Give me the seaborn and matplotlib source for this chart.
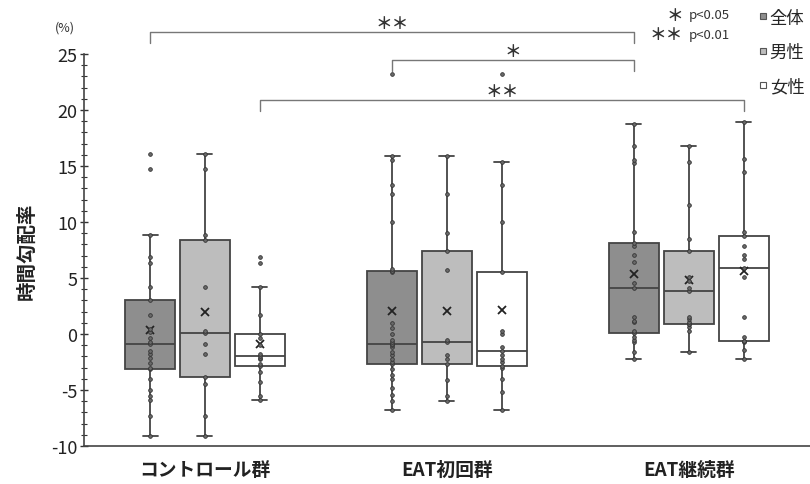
import pandas as pd
import matplotlib
matplotlib.use('Agg')
import matplotlib.pyplot as plt
import seaborn as sns
from matplotlib.lines import Line2D
from matplotlib.ticker import MultipleLocator

GROUPS = ['コントロール群', 'EAT初回群', 'EAT継続群']
SEXES = ['全体', '男性', '女性']
BOX_COLORS = ['#8e8e8e', '#bdbdbd', '#ffffff']

# 時間勾配率 (%)
ctrl_all = [-9.1, -7.3, -5.9, -5.5, -5.0, -4.0, -3.1, -3.0, -2.6, -2.1, -1.8, -1.5, -0.9,
            -0.75, -0.4, 0.15, 0.45, 1.7, 3.0, 4.2, 6.3, 6.9, 8.8, 14.7, 16.1]
ctrl_male = [-9.1, -7.3, -4.5, -3.8, -1.8, -0.9, 0.1, 0.3, 4.2, 8.4, 8.8, 14.7, 16.1]
ctrl_female = [-5.9, -5.5, -4.3, -3.4, -2.85, -2.7, -2.2, -2.1, -2.0, -1.8, -1.0, -0.4,
               0.0, 1.7, 4.2, 6.3, 6.9]

eat1_all = [-6.8, -5.95, -5.45, -4.85, -4.0, -3.7, -3.1, -2.65, -2.5, -2.2, -1.9, -1.6,
            -1.2, -1.0, -0.9, -0.75, -0.5, 0.0, 0.55, 1.0, 5.5, 5.65, 5.8, 10.0, 12.5,
            13.3, 15.5, 15.9, 23.2]
eat1_male = [-5.95, -5.5, -4.1, -2.65, -2.2, -1.9, -0.7, -0.5, 5.75, 7.45, 9.0, 12.5, 15.9]
eat1_female = [-6.8, -5.2, -4.0, -3.0, -2.9, -2.5, -2.2, -1.9, -1.5, -1.2, 0.0, 0.3, 5.55,
               10.0, 13.3, 15.4, 23.2]

eat2_all = [-2.2, -1.6, -0.75, -0.5, -0.3, 0.1, 0.25, 1.05, 1.2, 1.5, 4.1, 4.6, 6.4, 7.1,
            7.9, 8.15, 9.1, 15.3, 15.5, 16.8, 18.8]
eat2_male = [-1.6, 0.25, 0.6, 0.85, 0.9, 1.05, 1.3, 1.5, 3.8, 4.1, 4.75, 5.05, 7.4, 8.5,
             11.5, 15.4, 16.8]
eat2_female = [-2.2, -1.4, -0.75, -0.65, -0.6, -0.3, 1.5, 5.1, 5.9, 6.7, 7.1, 7.9, 8.75,
               9.1, 14.5, 15.6, 18.9]

series = {
    ('コントロール群', '全体'): ctrl_all,
    ('コントロール群', '男性'): ctrl_male,
    ('コントロール群', '女性'): ctrl_female,
    ('EAT初回群', '全体'): eat1_all,
    ('EAT初回群', '男性'): eat1_male,
    ('EAT初回群', '女性'): eat1_female,
    ('EAT継続群', '全体'): eat2_all,
    ('EAT継続群', '男性'): eat2_male,
    ('EAT継続群', '女性'): eat2_female,
}

# significance brackets: (from, to, height, label)
brackets = [
    (('コントロール群', '全体'), ('EAT継続群', '全体'), 26.95, '＊＊'),
    (('EAT初回群', '全体'), ('EAT継続群', '全体'), 24.45, '＊'),
    (('コントロール群', '女性'), ('EAT継続群', '女性'), 20.9, '＊＊'),
]

rows = []
for (g, s), vals in series.items():
    for v in vals:
        rows.append((g, s, v))
df = pd.DataFrame(rows, columns=['group', 'sex', 'rate'])

BOX_W = 0.68
g_idx = {g: i for i, g in enumerate(GROUPS)}
s_idx = {s: i for i, s in enumerate(SEXES)}


def slot(g, s):
    # same dodge offsets seaborn uses for the boxes
    return g_idx[g] + (s_idx[s] - 1) * BOX_W / len(SEXES)


df['xpos'] = [slot(g, s) for g, s in zip(df['group'], df['sex'])]

sns.set_theme(style='white')
plt.rcParams['font.family'] = ['Noto Sans CJK JP', 'DejaVu Sans']
plt.rcParams['axes.unicode_minus'] = False

fig = plt.figure(figsize=(8.1, 4.85), dpi=100)
ax = fig.add_axes([0.1037, 0.0784, 0.896, 0.808])

sns.boxplot(data=df, x='group', y='rate', hue='sex', order=GROUPS, hue_order=SEXES,
            palette=BOX_COLORS, width=BOX_W, gap=0.09, whis=1.5, showfliers=False,
            showmeans=True, linecolor='#444444', linewidth=1.3, legend=False,
            capwidths=0.062,
            meanprops=dict(marker='x', markeredgecolor='#222222', markersize=5.5,
                           markeredgewidth=1.3),
            ax=ax)
sns.scatterplot(data=df, x='xpos', y='rate', color='#6a6a6a', edgecolor='#333333',
                s=7, linewidth=0.6, legend=False, zorder=4, ax=ax)

ax.set_xlim(-0.5, 2.5)
ax.set_ylim(-10, 25)
ax.set_xticks(range(len(GROUPS)))
ax.set_xticklabels(GROUPS, fontsize=13.5, fontweight='bold', color='#222222')
ax.yaxis.set_major_locator(MultipleLocator(5))
ax.yaxis.set_minor_locator(MultipleLocator(1))
ax.tick_params(axis='y', which='major', direction='inout', length=6, width=1,
               color='#333333', labelsize=13, labelcolor='#222222', pad=2, left=True)
ax.tick_params(axis='y', which='minor', direction='inout', length=4, width=0.8,
               color='#333333', left=True)
ax.tick_params(axis='x', length=0, pad=10)
ax.set_xlabel('')
ax.set_ylabel('時間勾配率', fontsize=14, fontweight='bold', labelpad=10, color='#222222')
sns.despine(ax=ax)
for sp in ['left', 'bottom']:
    ax.spines[sp].set_color('#444444')
    ax.spines[sp].set_linewidth(1.2)

# brackets above the plot area
for a, b, yb, lab in brackets:
    x1, x2 = slot(*a), slot(*b)
    ax.plot([x1, x1, x2, x2], [yb - 0.95, yb, yb, yb - 0.95], color='#777777', lw=1,
            clip_on=False)
    ax.text((x1 + x2) / 2, yb + 0.8, lab, ha='center', va='center', fontsize=12,
            fontweight='bold', color='#333333')

fig.text(65 / 810, 1 - 28 / 485, '(%)', fontsize=9, ha='center', va='center',
         color='#333333')
fig.text(683 / 810, 1 - 16 / 485, '＊', fontsize=12, fontweight='bold', ha='right',
         va='center', color='#333333')
fig.text(689 / 810, 1 - 16 / 485, 'p<0.05', fontsize=9.5, ha='left', va='center',
         color='#333333')
fig.text(683 / 810, 1 - 35 / 485, '＊＊', fontsize=12, fontweight='bold', ha='right',
         va='center', color='#333333')
fig.text(689 / 810, 1 - 35 / 485, 'p<0.01', fontsize=9.5, ha='left', va='center',
         color='#333333')

handles = [Line2D([], [], marker='s', linestyle='', markersize=5, markerfacecolor=c,
                  markeredgecolor='#555555', markeredgewidth=0.8) for c in BOX_COLORS]
fig.legend(handles, SEXES, loc='upper right', bbox_to_anchor=(1.005, 1.0),
           frameon=False, fontsize=12.5, handlelength=0.5, handletextpad=0.15,
           labelspacing=0.95, borderaxespad=0.15)

fig.savefig('out.png', dpi=100)
